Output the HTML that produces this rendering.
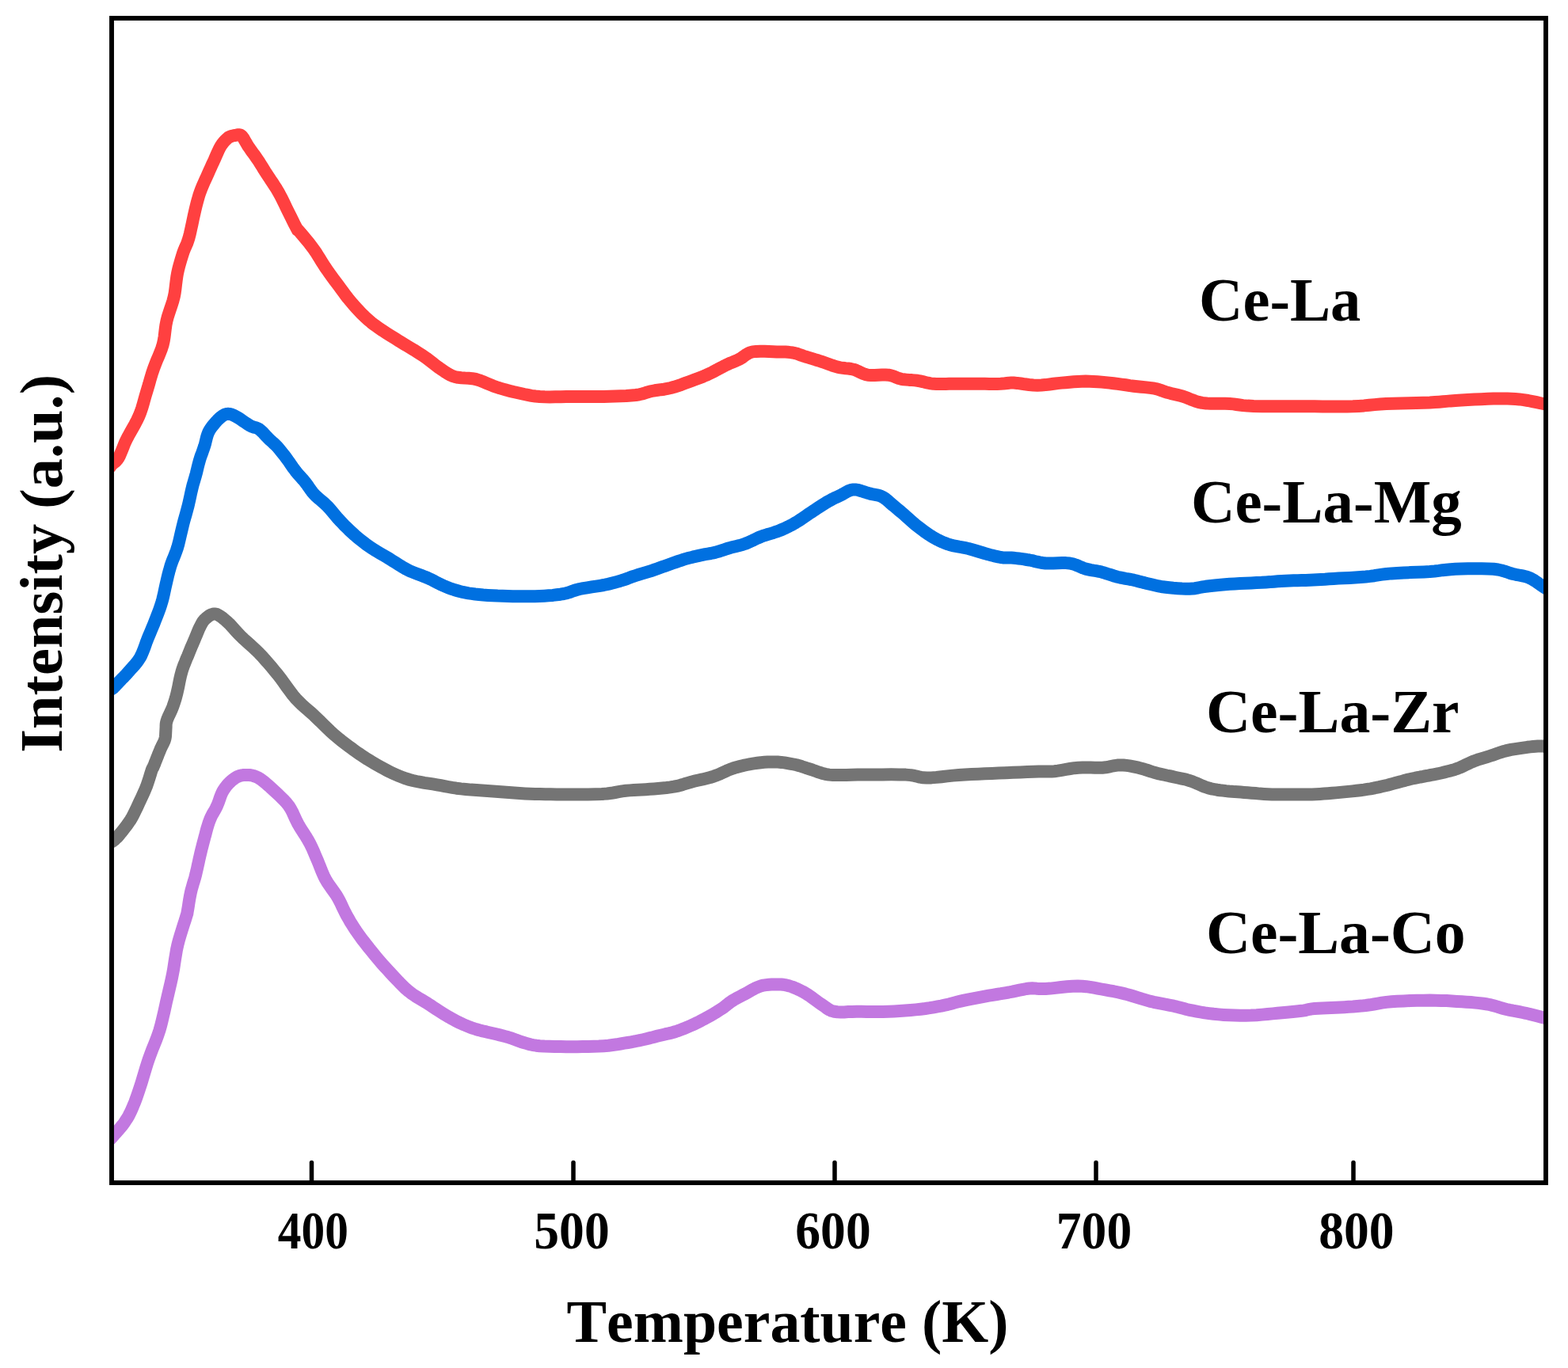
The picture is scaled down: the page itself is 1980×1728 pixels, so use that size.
<!DOCTYPE html>
<html><head><meta charset="utf-8"><title>TPR</title>
<style>html,body{margin:0;padding:0;background:#fff;overflow:hidden;width:1980px;height:1728px;}svg{display:block;}</style>
</head><body>
<svg width="1980" height="1728" viewBox="0 0 1980 1728">
<rect width="1980" height="1728" fill="#fff"/>
<defs><clipPath id="c"><rect x="141" y="23" width="1811" height="1471"/></clipPath></defs>
<g clip-path="url(#c)" fill="none" stroke-width="16" stroke-linejoin="round" stroke-linecap="round">
<path stroke="#ff4040" d="M139.0 590.0 L139.1 589.7 L139.3 589.4 L139.5 589.1 L139.8 588.5 L140.2 587.9 L141.0 587.0 L142.1 586.0 L143.4 585.0 L144.9 583.8 L146.5 582.3 L148.2 580.4 L149.8 578.1 L151.3 575.2 L152.7 571.9 L154.2 568.2 L155.8 564.2 L157.5 559.9 L159.5 555.6 L161.9 551.0 L164.6 546.1 L167.5 541.0 L170.4 535.8 L173.1 530.6 L175.5 525.5 L177.5 520.5 L179.2 515.5 L180.7 510.4 L182.1 505.4 L183.5 500.4 L185.0 495.4 L186.5 490.4 L188.0 485.4 L189.4 480.3 L190.9 475.3 L192.4 470.3 L194.1 465.3 L196.0 460.3 L198.0 455.3 L200.2 450.3 L202.2 445.3 L204.1 440.3 L205.7 435.3 L206.8 430.3 L207.6 425.3 L208.2 420.3 L208.8 415.2 L209.5 410.2 L210.5 405.2 L211.8 400.2 L213.4 395.2 L215.1 390.1 L216.8 385.1 L218.4 380.1 L219.7 375.1 L220.7 370.0 L221.4 364.9 L222.0 359.7 L222.6 354.7 L223.3 349.7 L224.1 345.0 L225.1 340.5 L226.2 336.1 L227.4 331.8 L228.6 327.7 L229.8 323.8 L231.0 320.0 L232.2 316.6 L233.4 313.7 L234.7 310.9 L236.0 307.9 L237.2 304.6 L238.5 300.5 L239.8 295.5 L241.1 289.6 L242.5 283.3 L243.8 277.0 L245.1 271.0 L246.3 265.7 L247.4 261.2 L248.4 257.1 L249.4 253.4 L250.4 249.9 L251.4 246.3 L252.7 242.6 L254.2 238.7 L255.8 234.7 L257.6 230.6 L259.4 226.7 L261.1 222.9 L262.7 219.4 L264.1 216.2 L265.5 213.2 L266.8 210.3 L268.0 207.6 L269.3 204.8 L270.6 202.0 L271.9 199.0 L273.2 196.0 L274.6 192.9 L275.9 190.0 L277.3 187.2 L278.7 184.7 L280.2 182.4 L281.7 180.4 L283.3 178.5 L284.9 176.8 L286.5 175.3 L288.0 174.0 L289.5 173.0 L291.1 172.3 L292.6 171.8 L294.1 171.5 L295.6 171.2 L297.0 171.0 L298.4 170.7 L299.7 170.4 L301.0 170.2 L302.3 170.3 L303.7 170.6 L305.0 171.5 L306.3 172.9 L307.6 174.8 L308.9 177.1 L310.3 179.5 L311.8 182.1 L313.4 184.7 L315.2 187.3 L317.2 190.2 L319.3 193.1 L321.5 196.1 L323.6 199.1 L325.6 202.0 L327.5 204.8 L329.2 207.6 L330.9 210.3 L332.7 213.2 L334.5 216.2 L336.6 219.4 L338.9 222.9 L341.4 226.7 L344.1 230.6 L346.7 234.7 L349.3 238.7 L351.6 242.6 L353.7 246.5 L355.7 250.3 L357.6 254.1 L359.5 258.0 L361.3 261.8 L363.2 265.7 L365.2 269.8 L367.4 274.2 L369.6 278.6 L371.6 282.7 L373.4 286.2 L374.8 288.9 L375.6 290.3 L375.7 290.6 L375.7 290.3 L375.7 289.9 L376.1 290.2 L377.4 291.6 L379.6 294.3 L382.6 297.8 L386.0 301.9 L389.6 306.2 L393.0 310.6 L396.1 314.7 L398.8 318.6 L401.2 322.4 L403.6 326.3 L406.0 330.2 L408.4 334.0 L410.9 337.9 L413.6 341.8 L416.3 345.6 L419.1 349.4 L421.9 353.3 L424.8 357.1 L427.7 361.0 L430.6 364.9 L433.4 368.7 L436.2 372.6 L439.2 376.5 L442.3 380.3 L445.6 384.2 L449.1 388.1 L452.7 392.0 L456.4 395.9 L460.4 399.8 L464.5 403.6 L468.8 407.3 L473.4 410.8 L478.2 414.2 L483.1 417.6 L488.3 420.9 L493.5 424.2 L498.9 427.6 L504.6 431.2 L510.6 434.8 L516.7 438.5 L522.7 442.1 L528.4 445.7 L533.6 449.0 L538.2 452.2 L542.4 455.4 L546.3 458.4 L549.9 461.2 L553.4 463.9 L556.8 466.3 L560.0 468.4 L562.8 470.3 L565.5 472.0 L568.2 473.5 L571.1 474.9 L574.5 476.0 L578.4 476.8 L582.6 477.2 L587.1 477.5 L591.7 477.7 L596.3 478.2 L600.8 479.0 L605.2 480.3 L609.5 481.9 L613.9 483.8 L618.3 485.6 L622.6 487.4 L627.0 489.0 L631.3 490.4 L635.6 491.6 L639.8 492.8 L644.1 493.9 L648.5 495.0 L653.0 496.0 L657.5 497.0 L661.9 498.0 L666.4 498.9 L671.1 499.8 L676.1 500.5 L681.6 501.0 L687.7 501.3 L694.2 501.4 L701.1 501.3 L708.1 501.2 L715.1 501.1 L722.0 501.0 L728.7 501.0 L735.5 501.1 L742.2 501.1 L748.9 501.1 L755.7 501.1 L762.4 501.0 L769.4 500.8 L776.6 500.6 L783.9 500.3 L790.8 500.0 L797.2 499.5 L802.8 499.0 L807.3 498.3 L810.9 497.5 L813.9 496.6 L816.7 495.7 L819.6 494.8 L823.0 494.0 L826.8 493.3 L830.6 492.8 L834.6 492.2 L838.7 491.7 L842.8 490.9 L847.0 490.0 L851.3 488.8 L855.9 487.3 L860.5 485.8 L865.0 484.1 L869.4 482.5 L873.5 481.0 L877.3 479.6 L880.8 478.3 L884.2 477.0 L887.5 475.7 L890.6 474.3 L893.7 473.0 L896.7 471.6 L899.7 470.1 L902.5 468.6 L905.2 467.2 L907.7 465.8 L910.0 464.6 L912.0 463.6 L913.7 462.7 L915.1 462.0 L916.6 461.2 L918.2 460.5 L920.0 459.6 L922.1 458.7 L924.3 457.8 L926.6 456.8 L929.0 455.8 L931.5 454.7 L934.0 453.5 L936.4 452.1 L938.8 450.4 L941.2 448.6 L943.9 446.9 L946.9 445.4 L950.5 444.4 L954.9 443.9 L960.0 443.7 L965.4 443.8 L970.9 444.0 L976.2 444.2 L980.8 444.4 L984.8 444.5 L988.4 444.5 L991.8 444.6 L995.0 444.8 L998.0 445.1 L1001.0 445.5 L1003.9 446.1 L1006.5 446.8 L1009.0 447.7 L1011.5 448.6 L1014.2 449.6 L1017.0 450.5 L1020.1 451.4 L1023.3 452.4 L1026.7 453.4 L1030.1 454.5 L1033.6 455.5 L1037.0 456.6 L1040.4 457.8 L1043.8 459.0 L1047.3 460.3 L1050.7 461.5 L1054.2 462.6 L1057.6 463.6 L1061.0 464.3 L1064.4 464.8 L1067.8 465.2 L1071.2 465.5 L1074.6 466.0 L1077.8 466.7 L1080.9 467.7 L1083.7 469.0 L1086.5 470.4 L1089.4 471.7 L1092.5 472.9 L1096.0 473.7 L1100.0 474.0 L1104.5 474.0 L1109.1 473.8 L1113.8 473.6 L1118.2 473.5 L1122.0 473.7 L1125.2 474.3 L1127.9 475.1 L1130.3 476.1 L1132.7 477.1 L1135.2 478.1 L1138.0 478.8 L1141.2 479.3 L1144.5 479.6 L1148.0 479.9 L1151.6 480.1 L1155.1 480.4 L1158.6 480.8 L1161.9 481.4 L1165.2 482.1 L1168.5 482.9 L1171.8 483.7 L1175.2 484.3 L1178.8 484.8 L1182.5 485.0 L1186.4 485.1 L1190.3 485.1 L1194.4 484.9 L1198.6 484.8 L1203.0 484.8 L1207.7 484.8 L1212.5 484.8 L1217.6 484.8 L1222.7 484.8 L1227.9 484.8 L1233.0 484.8 L1238.2 484.8 L1243.7 484.8 L1249.2 484.9 L1254.4 484.9 L1259.3 484.9 L1263.6 484.8 L1267.0 484.6 L1269.6 484.3 L1271.8 484.0 L1274.1 483.7 L1276.6 483.6 L1280.0 483.6 L1284.2 483.9 L1289.0 484.5 L1294.1 485.3 L1299.5 486.0 L1304.8 486.5 L1310.0 486.7 L1315.1 486.5 L1320.2 486.1 L1325.3 485.5 L1330.4 484.8 L1335.5 484.1 L1340.6 483.6 L1345.7 483.2 L1350.8 482.7 L1355.8 482.3 L1360.9 481.9 L1366.0 481.7 L1371.0 481.6 L1376.0 481.7 L1381.0 481.9 L1386.0 482.2 L1391.0 482.6 L1396.0 483.1 L1401.0 483.6 L1406.1 484.2 L1411.3 484.9 L1416.5 485.6 L1421.6 486.3 L1426.7 487.1 L1431.5 487.7 L1436.2 488.2 L1441.0 488.7 L1445.5 489.1 L1449.9 489.6 L1454.0 490.1 L1457.8 490.7 L1461.0 491.4 L1463.8 492.2 L1466.3 493.1 L1468.7 494.0 L1471.2 494.9 L1474.0 495.8 L1477.1 496.6 L1480.2 497.4 L1483.5 498.1 L1486.9 498.9 L1490.4 499.8 L1494.0 500.8 L1497.6 502.1 L1501.3 503.5 L1505.1 505.1 L1509.1 506.6 L1513.3 507.9 L1518.0 508.9 L1523.2 509.5 L1528.9 509.7 L1535.0 509.8 L1541.1 509.8 L1547.0 509.8 L1552.7 510.0 L1557.5 510.4 L1561.4 511.0 L1565.2 511.5 L1569.6 512.1 L1575.3 512.6 L1583.0 513.0 L1593.5 513.2 L1606.3 513.3 L1620.4 513.3 L1634.7 513.3 L1648.3 513.3 L1660.0 513.3 L1669.8 513.4 L1678.5 513.4 L1686.4 513.5 L1693.9 513.6 L1701.1 513.5 L1708.5 513.3 L1715.7 512.9 L1722.5 512.4 L1729.1 511.7 L1735.8 511.1 L1742.8 510.5 L1750.5 510.0 L1759.2 509.7 L1768.7 509.4 L1778.6 509.2 L1788.4 509.0 L1797.5 508.8 L1805.5 508.5 L1812.0 508.1 L1817.4 507.7 L1822.1 507.3 L1826.7 506.9 L1831.8 506.4 L1837.8 506.0 L1845.1 505.6 L1853.3 505.1 L1861.9 504.6 L1870.5 504.2 L1878.7 503.8 L1886.0 503.6 L1892.4 503.5 L1898.1 503.5 L1903.4 503.5 L1908.5 503.7 L1913.5 504.0 L1918.6 504.4 L1924.0 505.1 L1929.6 506.0 L1935.1 507.1 L1940.4 508.2 L1945.1 509.2 L1949.0 510.0 L1952.1 510.6 L1954.5 511.0 L1956.4 511.4 L1957.9 511.6 L1959.0 511.8 L1960.0 512.0"/>
<path stroke="#0070e0" d="M139.0 871.0 L139.4 870.9 L139.9 870.7 L140.5 870.6 L141.2 870.3 L142.0 869.8 L143.0 869.0 L144.1 867.9 L145.4 866.6 L146.8 865.1 L148.3 863.5 L149.9 861.8 L151.6 860.0 L153.3 858.2 L155.1 856.4 L157.0 854.4 L159.0 852.4 L161.0 850.2 L163.1 847.8 L165.3 845.3 L167.7 842.6 L170.2 839.8 L172.6 836.9 L174.9 833.8 L177.0 830.5 L178.8 827.0 L180.4 823.2 L181.9 819.3 L183.4 815.2 L184.8 811.2 L186.3 807.3 L187.9 803.4 L189.5 799.6 L191.1 795.7 L192.7 791.9 L194.3 788.1 L195.8 784.2 L197.3 780.3 L198.8 776.5 L200.3 772.6 L201.7 768.7 L203.0 764.9 L204.2 761.0 L205.3 757.1 L206.2 753.3 L207.1 749.5 L207.9 745.6 L208.7 741.8 L209.6 737.9 L210.5 734.0 L211.4 730.2 L212.3 726.3 L213.3 722.4 L214.4 718.6 L215.5 714.7 L216.8 710.9 L218.2 707.2 L219.7 703.6 L221.2 699.8 L222.7 695.8 L224.1 691.6 L225.4 687.0 L226.6 682.0 L227.8 676.8 L229.0 671.6 L230.2 666.6 L231.3 662.0 L232.4 657.8 L233.5 653.8 L234.6 650.1 L235.6 646.4 L236.6 642.7 L237.6 638.9 L238.5 635.0 L239.4 631.0 L240.3 626.9 L241.1 623.0 L242.0 619.2 L242.8 615.7 L243.6 612.5 L244.5 609.5 L245.3 606.7 L246.1 604.0 L246.9 601.2 L247.7 598.4 L248.4 595.5 L249.1 592.6 L249.8 589.7 L250.5 586.8 L251.3 583.9 L252.1 581.0 L253.0 578.1 L254.0 575.2 L255.1 572.4 L256.1 569.5 L257.1 566.6 L258.1 563.7 L259.0 560.7 L259.7 557.7 L260.5 554.6 L261.2 551.7 L262.1 548.9 L263.1 546.3 L264.3 544.0 L265.5 541.9 L266.9 540.0 L268.3 538.1 L269.8 536.4 L271.2 534.7 L272.6 533.0 L274.1 531.4 L275.6 529.8 L277.1 528.4 L278.6 527.1 L280.0 526.0 L281.4 525.1 L282.6 524.3 L283.9 523.6 L285.2 523.2 L286.5 522.9 L288.0 522.8 L289.5 522.9 L291.0 523.2 L292.6 523.6 L294.3 524.3 L296.2 525.2 L298.4 526.3 L300.9 527.8 L303.9 529.7 L307.0 531.9 L310.1 534.0 L313.1 536.0 L315.7 537.6 L318.0 538.7 L320.0 539.4 L321.9 539.9 L323.6 540.4 L325.4 541.1 L327.3 542.2 L329.2 543.7 L331.2 545.6 L333.1 547.6 L335.0 549.7 L337.0 551.8 L338.9 553.8 L340.8 555.6 L342.8 557.4 L344.7 559.1 L346.6 560.9 L348.6 562.8 L350.5 564.8 L352.4 567.0 L354.3 569.3 L356.2 571.7 L358.2 574.2 L360.1 576.7 L362.0 579.3 L363.9 581.9 L365.9 584.7 L367.8 587.5 L369.7 590.3 L371.7 592.9 L373.6 595.5 L375.5 597.9 L377.5 600.1 L379.4 602.2 L381.3 604.3 L383.3 606.5 L385.2 608.8 L387.1 611.3 L388.9 613.9 L390.7 616.5 L392.6 619.2 L394.6 621.8 L396.8 624.4 L399.2 626.8 L401.9 629.2 L404.6 631.5 L407.4 633.9 L410.3 636.4 L413.0 639.0 L415.6 641.8 L418.2 644.8 L420.8 647.9 L423.5 651.1 L426.2 654.3 L429.0 657.4 L432.0 660.5 L435.0 663.7 L438.2 666.8 L441.4 670.0 L444.7 673.0 L448.0 676.0 L451.3 678.8 L454.7 681.6 L458.1 684.3 L461.5 686.9 L465.1 689.5 L468.7 692.0 L472.4 694.4 L476.3 696.8 L480.2 699.1 L484.2 701.4 L488.1 703.7 L492.0 706.0 L495.8 708.4 L499.6 710.8 L503.4 713.2 L507.2 715.6 L511.1 717.9 L515.0 720.0 L519.1 721.9 L523.4 723.6 L527.7 725.2 L531.9 726.8 L536.1 728.4 L540.0 730.0 L543.7 731.7 L547.1 733.4 L550.5 735.2 L553.8 736.9 L557.1 738.5 L560.4 740.0 L563.7 741.4 L567.0 742.7 L570.3 743.9 L573.6 745.0 L577.0 746.0 L580.6 747.0 L584.3 747.9 L587.9 748.6 L591.7 749.3 L595.7 749.9 L600.0 750.5 L604.8 751.0 L610.1 751.5 L615.8 751.9 L621.9 752.2 L628.2 752.6 L634.6 752.8 L641.0 753.0 L647.6 753.2 L654.6 753.3 L661.7 753.3 L668.7 753.3 L675.4 753.2 L681.6 753.0 L687.4 752.7 L692.9 752.3 L698.1 751.9 L703.0 751.3 L707.7 750.7 L712.0 750.0 L715.8 749.2 L719.1 748.2 L722.0 747.1 L724.9 746.0 L728.2 745.0 L732.0 744.0 L736.6 743.1 L741.7 742.3 L747.2 741.4 L752.6 740.6 L757.8 739.8 L762.4 739.0 L766.4 738.2 L769.9 737.4 L773.1 736.6 L776.2 735.8 L779.4 734.9 L782.6 734.0 L786.0 732.9 L789.3 731.8 L792.7 730.6 L796.1 729.3 L799.4 728.1 L802.8 727.0 L806.2 725.9 L809.5 724.9 L812.9 723.9 L816.3 722.9 L819.6 721.9 L823.0 720.8 L826.3 719.7 L829.7 718.5 L833.0 717.3 L836.3 716.1 L839.6 714.9 L843.0 713.7 L846.4 712.5 L849.8 711.3 L853.2 710.1 L856.6 708.9 L860.0 707.8 L863.4 706.7 L866.8 705.7 L870.1 704.8 L873.5 704.0 L876.9 703.1 L880.2 702.4 L883.6 701.6 L887.0 700.9 L890.5 700.2 L894.0 699.6 L897.4 699.0 L900.7 698.3 L903.8 697.6 L906.7 696.8 L909.3 696.0 L911.9 695.1 L914.4 694.3 L917.1 693.4 L920.0 692.5 L923.2 691.6 L926.5 690.8 L929.9 690.0 L933.5 689.1 L937.0 688.1 L940.4 687.0 L943.7 685.7 L947.0 684.2 L950.3 682.7 L953.6 681.1 L957.0 679.5 L960.6 678.0 L964.4 676.6 L968.5 675.3 L972.7 674.1 L976.9 672.8 L981.0 671.4 L984.8 670.0 L988.4 668.5 L991.8 666.9 L995.2 665.3 L998.4 663.7 L1001.7 661.9 L1005.0 660.0 L1008.3 658.0 L1011.7 655.8 L1015.0 653.5 L1018.3 651.2 L1021.6 648.9 L1025.0 646.7 L1028.4 644.4 L1032.0 642.1 L1035.5 639.8 L1039.0 637.5 L1042.3 635.4 L1045.5 633.5 L1048.4 631.9 L1051.2 630.4 L1053.8 629.1 L1056.4 627.9 L1059.0 626.7 L1061.6 625.5 L1064.2 624.1 L1066.8 622.6 L1069.4 621.1 L1072.1 619.8 L1074.9 618.9 L1077.8 618.4 L1081.0 618.5 L1084.4 619.2 L1087.9 620.2 L1091.4 621.4 L1094.8 622.5 L1098.0 623.4 L1100.9 624.1 L1103.7 624.6 L1106.4 625.1 L1109.0 625.6 L1111.5 626.4 L1114.0 627.5 L1116.4 628.9 L1118.8 630.6 L1121.1 632.5 L1123.4 634.6 L1125.7 636.6 L1128.0 638.6 L1130.4 640.5 L1132.7 642.5 L1135.1 644.5 L1137.5 646.5 L1139.9 648.6 L1142.4 650.7 L1144.9 652.9 L1147.5 655.2 L1150.1 657.6 L1152.8 660.0 L1155.6 662.4 L1158.6 664.8 L1161.7 667.2 L1165.0 669.7 L1168.4 672.2 L1171.9 674.6 L1175.4 676.9 L1178.8 679.0 L1182.1 680.8 L1185.4 682.5 L1188.7 684.1 L1192.0 685.5 L1195.4 686.8 L1199.0 688.0 L1202.8 689.1 L1206.9 689.9 L1211.0 690.7 L1215.1 691.4 L1219.2 692.2 L1223.0 693.0 L1226.6 694.0 L1230.1 695.0 L1233.4 696.0 L1236.7 697.0 L1240.1 698.0 L1243.4 699.0 L1246.8 699.9 L1250.3 700.9 L1253.8 701.8 L1257.2 702.7 L1260.5 703.4 L1263.6 704.0 L1266.5 704.4 L1269.2 704.5 L1271.8 704.5 L1274.4 704.5 L1277.1 704.6 L1280.0 704.8 L1283.1 705.1 L1286.4 705.5 L1289.7 705.9 L1293.2 706.4 L1296.6 707.0 L1300.0 707.5 L1303.3 708.1 L1306.4 708.9 L1309.6 709.7 L1312.9 710.4 L1316.4 711.0 L1320.4 711.5 L1325.0 711.6 L1330.1 711.5 L1335.6 711.3 L1341.0 711.1 L1346.1 711.1 L1350.7 711.5 L1354.7 712.3 L1358.2 713.5 L1361.5 714.8 L1364.6 716.2 L1367.7 717.5 L1371.0 718.6 L1374.4 719.4 L1377.7 720.1 L1381.0 720.7 L1384.3 721.2 L1387.7 721.8 L1391.0 722.6 L1394.3 723.5 L1397.6 724.6 L1401.0 725.6 L1404.3 726.7 L1407.6 727.8 L1411.0 728.7 L1414.4 729.5 L1417.8 730.1 L1421.2 730.8 L1424.7 731.4 L1428.1 732.0 L1431.5 732.7 L1434.9 733.5 L1438.3 734.4 L1441.6 735.3 L1445.0 736.1 L1448.3 737.0 L1451.7 737.8 L1455.0 738.6 L1458.1 739.3 L1461.2 740.0 L1464.5 740.7 L1468.1 741.3 L1472.0 741.8 L1476.5 742.3 L1481.6 742.8 L1487.0 743.2 L1492.4 743.6 L1497.4 743.8 L1502.0 743.8 L1505.8 743.6 L1509.1 743.2 L1512.2 742.6 L1515.2 742.0 L1518.5 741.4 L1522.4 740.8 L1526.8 740.3 L1531.4 739.8 L1536.3 739.2 L1541.5 738.7 L1547.0 738.2 L1552.7 737.8 L1559.0 737.4 L1565.8 737.1 L1572.8 736.7 L1579.9 736.4 L1586.7 736.1 L1593.0 735.8 L1598.6 735.4 L1603.9 735.1 L1608.8 734.7 L1613.6 734.3 L1618.5 734.0 L1623.4 733.7 L1628.5 733.5 L1633.5 733.3 L1638.6 733.2 L1643.6 733.0 L1648.7 732.9 L1653.7 732.7 L1658.6 732.5 L1663.4 732.2 L1668.2 731.9 L1673.1 731.7 L1678.4 731.3 L1684.0 731.0 L1690.3 730.6 L1697.1 730.3 L1704.2 729.9 L1711.3 729.5 L1718.2 729.0 L1724.6 728.5 L1730.3 727.9 L1735.4 727.2 L1740.3 726.4 L1745.3 725.7 L1750.8 725.0 L1757.0 724.4 L1764.3 723.9 L1772.6 723.5 L1781.3 723.1 L1789.9 722.8 L1798.2 722.4 L1805.5 722.0 L1811.6 721.5 L1816.9 720.9 L1821.7 720.2 L1826.5 719.7 L1831.7 719.2 L1837.8 718.8 L1845.2 718.5 L1853.6 718.3 L1862.4 718.2 L1871.1 718.2 L1879.2 718.4 L1886.0 718.8 L1891.5 719.5 L1896.1 720.5 L1900.0 721.6 L1903.5 722.8 L1906.9 724.0 L1910.5 725.0 L1914.2 725.8 L1917.9 726.5 L1921.4 727.2 L1924.9 727.9 L1928.2 728.8 L1931.5 730.0 L1934.7 731.6 L1937.9 733.5 L1941.0 735.6 L1944.0 737.7 L1946.8 739.7 L1949.3 741.4 L1951.6 742.9 L1953.8 744.2 L1955.8 745.4 L1957.5 746.5 L1958.9 747.3 L1960.0 748.0"/>
<path stroke="#747474" d="M139.0 1064.0 L139.4 1063.8 L139.9 1063.7 L140.5 1063.5 L141.3 1063.1 L142.1 1062.7 L143.0 1062.0 L144.0 1061.2 L144.9 1060.4 L146.0 1059.4 L147.3 1058.2 L148.7 1056.7 L150.4 1054.7 L152.5 1052.2 L154.9 1049.2 L157.5 1045.9 L160.2 1042.4 L162.7 1038.8 L165.0 1035.4 L167.0 1032.0 L168.8 1028.6 L170.5 1025.1 L172.2 1021.6 L173.8 1018.1 L175.4 1014.6 L177.1 1011.1 L178.7 1007.7 L180.3 1004.2 L181.9 1000.7 L183.4 997.2 L184.8 993.8 L186.1 990.1 L187.4 986.2 L188.7 982.3 L189.8 978.6 L190.8 975.4 L191.6 972.9 L192.2 971.3 L192.6 970.5 L192.8 970.1 L193.1 969.8 L193.3 969.4 L193.8 968.4 L194.4 966.9 L195.2 965.1 L195.9 963.0 L196.8 960.9 L197.6 958.8 L198.4 956.8 L199.2 954.9 L199.9 952.9 L200.7 951.0 L201.5 949.1 L202.3 947.1 L203.1 945.2 L204.0 943.3 L204.9 941.4 L205.9 939.5 L206.9 937.5 L207.7 935.6 L208.3 933.7 L208.7 931.8 L209.0 929.8 L209.1 927.9 L209.2 926.0 L209.3 924.0 L209.4 922.1 L209.5 920.2 L209.6 918.4 L209.6 916.7 L209.7 914.8 L210.0 912.8 L210.6 910.5 L211.5 907.9 L212.7 905.1 L214.1 902.2 L215.5 899.1 L216.9 896.1 L218.1 893.1 L219.1 890.3 L220.0 887.7 L220.8 885.1 L221.7 882.3 L222.5 879.3 L223.4 875.8 L224.3 871.8 L225.3 867.3 L226.2 862.5 L227.2 857.6 L228.3 852.8 L229.5 848.4 L230.8 844.2 L232.3 840.1 L233.9 836.2 L235.4 832.3 L237.0 828.7 L238.4 825.2 L239.7 822.0 L240.9 819.0 L242.1 816.2 L243.3 813.5 L244.5 810.7 L245.7 807.9 L246.9 804.9 L248.2 801.8 L249.5 798.7 L250.7 795.7 L252.0 792.9 L253.2 790.5 L254.3 788.4 L255.3 786.6 L256.3 785.0 L257.4 783.6 L258.6 782.3 L260.0 781.0 L261.6 779.7 L263.4 778.3 L265.4 777.0 L267.4 776.1 L269.6 775.5 L271.8 775.5 L274.1 776.1 L276.5 777.3 L278.9 778.9 L281.5 780.8 L284.1 783.0 L286.8 785.3 L289.5 787.8 L292.2 790.7 L295.0 793.8 L297.9 797.1 L300.9 800.4 L304.2 803.8 L307.7 807.1 L311.5 810.5 L315.4 814.0 L319.4 817.6 L323.4 821.3 L327.3 825.2 L331.2 829.3 L335.0 833.6 L338.9 838.0 L342.8 842.5 L346.6 847.2 L350.5 851.9 L354.4 856.9 L358.2 862.2 L362.0 867.5 L365.9 872.8 L369.7 877.9 L373.6 882.5 L377.5 886.6 L381.3 890.3 L385.2 893.7 L389.0 897.0 L392.9 900.4 L396.8 903.9 L400.7 907.7 L404.8 911.6 L408.8 915.6 L412.8 919.5 L416.7 923.3 L420.4 926.7 L424.0 929.8 L427.4 932.6 L430.7 935.3 L434.0 937.8 L437.3 940.3 L440.6 942.8 L444.0 945.3 L447.3 947.8 L450.7 950.2 L454.1 952.5 L457.4 954.8 L460.8 957.0 L464.2 959.2 L467.5 961.2 L470.9 963.3 L474.3 965.2 L477.6 967.1 L481.0 969.0 L484.3 970.8 L487.7 972.6 L491.0 974.3 L494.3 976.0 L497.6 977.5 L501.0 979.0 L504.3 980.4 L507.4 981.6 L510.6 982.8 L513.9 983.9 L517.4 985.0 L521.4 986.0 L525.9 987.0 L530.8 987.9 L535.9 988.8 L541.2 989.6 L546.5 990.4 L551.7 991.3 L556.6 992.2 L561.4 993.1 L566.2 994.0 L571.2 994.9 L576.4 995.7 L582.0 996.4 L588.1 997.0 L594.7 997.6 L601.6 998.0 L608.6 998.5 L615.5 998.9 L622.4 999.4 L629.1 999.9 L635.9 1000.5 L642.6 1001.0 L649.3 1001.5 L656.1 1002.0 L662.8 1002.4 L669.3 1002.7 L675.6 1002.9 L681.9 1003.1 L688.4 1003.2 L695.3 1003.3 L703.0 1003.4 L711.8 1003.5 L721.7 1003.5 L732.1 1003.5 L742.4 1003.5 L751.9 1003.3 L760.0 1003.0 L766.6 1002.5 L772.1 1001.8 L776.8 1001.0 L781.2 1000.2 L785.6 999.4 L790.3 998.8 L795.3 998.4 L800.4 998.0 L805.4 997.7 L810.5 997.5 L815.5 997.2 L820.6 996.8 L825.8 996.4 L831.0 996.0 L836.3 995.5 L841.5 995.0 L846.4 994.4 L851.0 993.7 L855.1 992.9 L858.7 992.0 L862.1 991.0 L865.5 989.9 L869.1 988.8 L873.0 987.7 L877.4 986.6 L882.1 985.5 L887.1 984.4 L892.0 983.2 L896.8 982.0 L901.4 980.6 L905.7 979.0 L909.7 977.3 L913.6 975.5 L917.5 973.7 L921.5 972.0 L925.6 970.5 L929.9 969.2 L934.3 968.0 L938.7 966.9 L943.1 966.0 L947.6 965.1 L952.0 964.4 L956.4 963.8 L960.8 963.2 L965.1 962.8 L969.5 962.5 L973.8 962.4 L978.0 962.4 L982.2 962.6 L986.4 962.9 L990.6 963.4 L994.6 964.1 L998.6 964.8 L1002.4 965.5 L1006.0 966.3 L1009.3 967.2 L1012.5 968.2 L1015.7 969.3 L1019.0 970.4 L1022.6 971.5 L1026.3 972.7 L1030.0 974.0 L1033.8 975.4 L1037.8 976.7 L1042.1 977.8 L1046.9 978.6 L1051.9 979.0 L1057.1 979.1 L1062.7 979.0 L1068.7 978.9 L1075.4 978.7 L1083.0 978.6 L1092.1 978.6 L1102.7 978.5 L1114.0 978.4 L1125.2 978.3 L1135.4 978.4 L1143.8 978.6 L1150.0 979.1 L1154.7 979.9 L1158.3 980.8 L1161.7 981.7 L1165.5 982.3 L1170.3 982.6 L1176.1 982.4 L1182.4 981.9 L1189.0 981.2 L1196.0 980.4 L1203.2 979.6 L1210.7 979.0 L1218.5 978.5 L1226.7 978.1 L1235.2 977.7 L1243.8 977.3 L1252.5 977.0 L1261.0 976.6 L1269.8 976.2 L1279.0 975.8 L1288.3 975.4 L1297.1 975.1 L1305.0 974.7 L1311.7 974.5 L1316.7 974.4 L1320.2 974.4 L1322.9 974.5 L1325.3 974.5 L1328.0 974.5 L1331.5 974.2 L1335.9 973.6 L1340.8 972.8 L1346.0 971.9 L1351.3 971.0 L1356.6 970.2 L1361.8 969.7 L1366.9 969.5 L1372.2 969.5 L1377.4 969.6 L1382.6 969.8 L1387.5 969.8 L1392.1 969.7 L1396.3 969.3 L1400.2 968.6 L1403.9 967.8 L1407.5 967.1 L1411.1 966.6 L1414.8 966.4 L1418.6 966.5 L1422.4 966.9 L1426.2 967.4 L1430.0 968.1 L1433.8 968.9 L1437.6 969.7 L1441.4 970.7 L1445.3 971.8 L1449.1 973.0 L1453.0 974.3 L1456.7 975.5 L1460.3 976.5 L1463.7 977.4 L1467.0 978.1 L1470.2 978.8 L1473.3 979.5 L1476.6 980.1 L1480.0 980.9 L1483.6 981.7 L1487.3 982.5 L1491.2 983.3 L1495.0 984.1 L1498.9 985.1 L1502.7 986.2 L1506.5 987.6 L1510.3 989.1 L1514.1 990.8 L1517.9 992.5 L1521.7 994.0 L1525.5 995.3 L1529.3 996.3 L1533.1 997.0 L1536.9 997.7 L1540.6 998.2 L1544.4 998.6 L1548.2 999.1 L1551.9 999.5 L1555.5 999.8 L1559.1 1000.1 L1562.8 1000.3 L1566.7 1000.6 L1570.9 1000.9 L1575.5 1001.3 L1580.4 1001.7 L1585.6 1002.1 L1590.8 1002.6 L1596.1 1002.9 L1601.2 1003.2 L1606.2 1003.4 L1611.3 1003.5 L1616.3 1003.6 L1621.4 1003.6 L1626.5 1003.6 L1631.5 1003.6 L1636.5 1003.6 L1641.6 1003.6 L1646.7 1003.6 L1651.7 1003.5 L1656.8 1003.4 L1661.8 1003.2 L1666.8 1002.9 L1671.9 1002.6 L1676.9 1002.2 L1682.0 1001.8 L1687.0 1001.4 L1692.1 1000.9 L1697.2 1000.4 L1702.5 999.9 L1707.7 999.4 L1712.9 998.8 L1717.8 998.2 L1722.4 997.6 L1726.7 996.9 L1730.7 996.3 L1734.5 995.6 L1738.1 994.8 L1741.7 994.1 L1745.2 993.3 L1748.7 992.5 L1752.2 991.7 L1755.6 990.8 L1758.9 989.9 L1762.0 989.1 L1765.0 988.3 L1767.7 987.6 L1770.2 986.9 L1772.6 986.2 L1774.9 985.5 L1777.4 984.9 L1780.2 984.2 L1783.3 983.5 L1786.6 982.9 L1790.0 982.2 L1793.5 981.5 L1797.0 980.9 L1800.4 980.2 L1803.8 979.6 L1807.1 978.9 L1810.5 978.3 L1813.9 977.7 L1817.2 977.0 L1820.6 976.2 L1824.0 975.4 L1827.3 974.6 L1830.7 973.7 L1834.1 972.8 L1837.4 971.8 L1840.8 970.6 L1844.2 969.3 L1847.5 967.7 L1850.9 966.1 L1854.3 964.5 L1857.6 962.9 L1861.0 961.5 L1864.4 960.3 L1867.7 959.1 L1871.1 958.1 L1874.5 957.1 L1877.8 956.1 L1881.2 955.0 L1884.6 953.9 L1887.9 952.7 L1891.3 951.5 L1894.7 950.4 L1898.0 949.3 L1901.4 948.4 L1904.8 947.6 L1908.1 946.9 L1911.5 946.3 L1914.9 945.8 L1918.2 945.3 L1921.6 944.8 L1925.1 944.3 L1928.7 943.8 L1932.4 943.4 L1935.9 943.0 L1939.1 942.7 L1941.8 942.5 L1944.0 942.4 L1945.7 942.4 L1947.1 942.5 L1948.4 942.6 L1949.6 942.7 L1951.0 942.8 L1952.6 942.8 L1954.3 942.9 L1956.1 942.9 L1957.7 943.0 L1959.0 943.0 L1960.0 943.0"/>
<path stroke="#c278e0" d="M139.0 1439.0 L139.2 1438.8 L139.3 1438.8 L139.6 1438.6 L140.0 1438.2 L140.8 1437.4 L142.0 1436.0 L143.9 1433.9 L146.3 1431.1 L149.1 1428.0 L151.9 1424.6 L154.7 1421.3 L157.0 1418.1 L158.9 1415.2 L160.7 1412.5 L162.3 1409.7 L163.8 1406.8 L165.3 1403.7 L166.9 1400.2 L168.5 1396.3 L170.2 1392.2 L171.8 1387.9 L173.4 1383.3 L175.1 1378.4 L176.8 1373.3 L178.6 1367.8 L180.3 1362.0 L182.1 1355.9 L184.0 1349.7 L185.9 1343.5 L187.9 1337.4 L190.1 1331.4 L192.4 1325.4 L194.8 1319.5 L197.2 1313.5 L199.4 1307.5 L201.4 1301.5 L203.1 1295.5 L204.6 1289.5 L206.0 1283.5 L207.4 1277.6 L208.7 1271.6 L210.0 1265.6 L211.4 1259.6 L212.8 1253.6 L214.2 1247.6 L215.6 1241.7 L216.9 1235.7 L218.1 1229.7 L219.2 1223.7 L220.1 1217.7 L221.0 1211.8 L222.0 1205.8 L223.0 1199.8 L224.3 1193.8 L225.9 1187.5 L227.9 1180.8 L230.0 1174.0 L232.0 1167.7 L233.8 1162.2 L235.1 1157.9 L235.9 1155.3 L236.3 1154.1 L236.4 1153.7 L236.4 1153.4 L236.5 1152.8 L236.8 1151.0 L237.3 1148.1 L237.9 1144.5 L238.5 1140.4 L239.2 1136.1 L240.0 1131.8 L240.8 1127.8 L241.7 1123.9 L242.8 1120.1 L243.9 1116.2 L245.1 1112.4 L246.2 1108.6 L247.2 1104.7 L248.1 1100.8 L249.0 1097.0 L249.8 1093.1 L250.7 1089.2 L251.5 1085.4 L252.4 1081.5 L253.3 1077.6 L254.2 1073.8 L255.2 1070.0 L256.2 1066.1 L257.2 1062.3 L258.2 1058.4 L259.3 1054.5 L260.3 1050.5 L261.4 1046.4 L262.6 1042.5 L263.8 1038.7 L265.1 1035.2 L266.5 1032.0 L268.0 1029.0 L269.6 1026.2 L271.2 1023.5 L272.7 1020.7 L274.1 1017.9 L275.3 1014.9 L276.4 1011.9 L277.5 1008.8 L278.5 1005.9 L279.6 1003.1 L280.8 1000.5 L282.1 998.2 L283.5 996.1 L284.9 994.1 L286.3 992.3 L287.8 990.6 L289.4 988.9 L291.1 987.3 L292.8 985.8 L294.6 984.4 L296.4 983.1 L298.2 981.9 L300.0 981.0 L301.7 980.3 L303.5 979.8 L305.2 979.4 L306.9 979.1 L308.6 979.0 L310.3 978.9 L311.9 978.9 L313.6 978.9 L315.2 979.0 L316.8 979.2 L318.4 979.6 L320.0 980.0 L321.6 980.5 L323.0 981.0 L324.5 981.6 L326.1 982.4 L327.9 983.5 L330.0 984.9 L332.5 986.8 L335.2 989.0 L338.2 991.6 L341.3 994.3 L344.3 997.1 L347.3 999.9 L350.3 1002.7 L353.3 1005.5 L356.3 1008.4 L359.3 1011.4 L362.1 1014.6 L364.7 1017.9 L367.0 1021.5 L369.0 1025.2 L370.8 1029.1 L372.6 1033.1 L374.5 1037.1 L376.5 1041.0 L378.8 1044.9 L381.2 1048.7 L383.7 1052.6 L386.2 1056.5 L388.5 1060.3 L390.7 1064.2 L392.7 1068.1 L394.5 1071.9 L396.2 1075.8 L397.8 1079.6 L399.4 1083.4 L401.1 1087.3 L402.7 1091.2 L404.2 1095.0 L405.7 1098.9 L407.3 1102.8 L409.0 1106.6 L411.0 1110.5 L413.3 1114.4 L415.9 1118.2 L418.6 1122.1 L421.4 1126.0 L424.1 1129.8 L426.5 1133.7 L428.6 1137.6 L430.5 1141.4 L432.3 1145.3 L434.1 1149.1 L436.0 1152.9 L438.0 1156.8 L440.2 1160.6 L442.4 1164.4 L444.8 1168.2 L447.2 1172.1 L449.8 1176.0 L452.6 1180.0 L455.6 1184.2 L458.9 1188.6 L462.4 1193.0 L465.9 1197.5 L469.4 1201.8 L472.8 1206.0 L476.1 1210.0 L479.4 1213.9 L482.7 1217.7 L486.0 1221.4 L489.5 1225.2 L493.0 1229.0 L496.7 1233.0 L500.5 1237.0 L504.4 1241.1 L508.4 1245.1 L512.3 1248.9 L516.3 1252.3 L520.3 1255.4 L524.4 1258.1 L528.4 1260.6 L532.5 1263.0 L536.4 1265.4 L540.2 1267.7 L543.8 1270.0 L547.2 1272.3 L550.5 1274.5 L553.8 1276.7 L557.1 1278.8 L560.4 1280.8 L563.8 1282.8 L567.1 1284.8 L570.5 1286.7 L573.9 1288.6 L577.2 1290.3 L580.6 1292.0 L584.0 1293.6 L587.3 1295.0 L590.7 1296.4 L594.1 1297.7 L597.4 1298.9 L600.8 1300.0 L604.2 1301.0 L607.5 1301.9 L610.9 1302.7 L614.3 1303.4 L617.6 1304.2 L621.0 1305.0 L624.4 1305.8 L627.7 1306.6 L631.1 1307.4 L634.5 1308.2 L637.8 1309.1 L641.2 1310.0 L644.6 1311.1 L647.9 1312.3 L651.3 1313.5 L654.7 1314.8 L658.0 1316.0 L661.4 1317.0 L664.5 1317.9 L667.4 1318.7 L670.2 1319.5 L673.4 1320.1 L677.1 1320.7 L681.6 1321.2 L687.2 1321.6 L693.6 1321.8 L700.5 1322.0 L707.8 1322.1 L715.0 1322.2 L722.0 1322.2 L728.9 1322.2 L735.8 1322.1 L742.8 1322.0 L749.7 1321.8 L756.3 1321.6 L762.4 1321.2 L768.2 1320.7 L773.6 1320.0 L778.8 1319.3 L783.7 1318.5 L788.3 1317.7 L792.7 1317.0 L796.7 1316.3 L800.2 1315.7 L803.5 1315.0 L806.6 1314.4 L809.7 1313.7 L813.0 1313.0 L816.3 1312.2 L819.7 1311.4 L823.0 1310.6 L826.3 1309.7 L829.7 1308.8 L833.0 1308.0 L836.4 1307.2 L839.7 1306.4 L843.1 1305.7 L846.5 1304.9 L849.9 1304.0 L853.3 1303.0 L856.7 1301.9 L860.0 1300.6 L863.4 1299.3 L866.8 1297.9 L870.1 1296.5 L873.5 1295.0 L876.9 1293.4 L880.3 1291.8 L883.7 1290.1 L887.1 1288.3 L890.4 1286.6 L893.7 1284.8 L896.9 1283.0 L900.2 1281.1 L903.4 1279.2 L906.4 1277.3 L909.3 1275.4 L912.0 1273.7 L914.3 1272.1 L916.3 1270.5 L918.1 1269.0 L919.9 1267.6 L921.8 1266.1 L924.0 1264.6 L926.4 1263.1 L929.0 1261.6 L931.7 1260.2 L934.5 1258.7 L937.4 1257.2 L940.4 1255.6 L943.5 1253.9 L946.9 1252.0 L950.3 1250.1 L953.7 1248.3 L957.2 1246.7 L960.6 1245.5 L964.0 1244.6 L967.5 1244.1 L971.0 1243.7 L974.4 1243.5 L977.7 1243.4 L980.8 1243.4 L983.7 1243.4 L986.4 1243.5 L988.9 1243.8 L991.5 1244.1 L994.1 1244.7 L997.0 1245.5 L1000.1 1246.5 L1003.4 1247.8 L1006.7 1249.2 L1010.2 1250.9 L1013.6 1252.6 L1017.0 1254.5 L1020.4 1256.6 L1023.9 1259.0 L1027.4 1261.6 L1030.9 1264.2 L1034.2 1266.6 L1037.4 1268.7 L1040.2 1270.6 L1042.6 1272.4 L1045.0 1274.1 L1047.4 1275.6 L1050.2 1276.9 L1053.5 1277.8 L1057.4 1278.3 L1061.6 1278.5 L1066.1 1278.4 L1071.0 1278.1 L1076.3 1277.9 L1081.8 1277.8 L1087.8 1277.8 L1094.3 1277.9 L1101.1 1278.0 L1108.1 1278.0 L1115.1 1278.0 L1122.0 1277.8 L1128.9 1277.5 L1135.9 1277.1 L1142.9 1276.6 L1149.8 1276.0 L1156.4 1275.4 L1162.6 1274.7 L1168.4 1274.0 L1173.9 1273.2 L1179.1 1272.3 L1184.0 1271.4 L1188.7 1270.6 L1193.0 1269.7 L1196.8 1268.9 L1200.1 1268.0 L1203.0 1267.2 L1205.9 1266.4 L1209.2 1265.5 L1213.0 1264.6 L1217.5 1263.6 L1222.4 1262.6 L1227.6 1261.6 L1232.9 1260.6 L1238.2 1259.6 L1243.4 1258.6 L1248.5 1257.7 L1253.7 1256.8 L1258.8 1256.0 L1263.9 1255.2 L1268.9 1254.3 L1273.7 1253.5 L1278.4 1252.6 L1283.0 1251.6 L1287.5 1250.7 L1291.8 1249.8 L1296.0 1249.0 L1300.0 1248.5 L1303.5 1248.3 L1306.5 1248.4 L1309.3 1248.7 L1312.3 1248.9 L1315.9 1249.1 L1320.4 1249.0 L1326.1 1248.6 L1332.8 1247.9 L1340.0 1247.0 L1347.3 1246.3 L1354.4 1245.7 L1360.8 1245.5 L1366.4 1245.7 L1371.6 1246.2 L1376.5 1246.9 L1381.3 1247.7 L1386.1 1248.6 L1391.0 1249.5 L1396.1 1250.4 L1401.1 1251.3 L1406.2 1252.2 L1411.3 1253.3 L1416.3 1254.4 L1421.4 1255.6 L1426.5 1257.0 L1431.5 1258.5 L1436.6 1260.1 L1441.6 1261.7 L1446.7 1263.2 L1451.7 1264.6 L1456.9 1265.8 L1462.2 1266.9 L1467.5 1267.9 L1472.6 1268.8 L1477.5 1269.8 L1482.0 1270.7 L1485.8 1271.6 L1489.1 1272.5 L1492.1 1273.3 L1495.1 1274.1 L1498.4 1275.0 L1502.2 1275.8 L1506.5 1276.7 L1511.2 1277.6 L1516.1 1278.5 L1521.3 1279.4 L1526.7 1280.1 L1532.5 1280.8 L1538.7 1281.4 L1545.3 1281.9 L1552.1 1282.3 L1559.1 1282.6 L1566.1 1282.8 L1573.0 1282.8 L1579.8 1282.6 L1586.8 1282.2 L1593.8 1281.6 L1600.6 1281.0 L1607.2 1280.4 L1613.3 1279.8 L1619.1 1279.3 L1624.7 1278.8 L1629.9 1278.3 L1634.9 1277.8 L1639.5 1277.3 L1643.6 1276.8 L1647.0 1276.3 L1649.5 1275.8 L1651.7 1275.3 L1653.9 1274.8 L1656.5 1274.4 L1660.0 1274.0 L1664.5 1273.7 L1669.6 1273.4 L1675.2 1273.2 L1680.9 1273.0 L1686.7 1272.8 L1692.3 1272.5 L1697.7 1272.2 L1703.1 1271.8 L1708.4 1271.5 L1713.8 1271.0 L1719.2 1270.6 L1724.6 1270.0 L1729.8 1269.3 L1734.8 1268.5 L1739.8 1267.6 L1745.0 1266.7 L1750.7 1265.9 L1757.0 1265.3 L1764.2 1264.8 L1772.3 1264.4 L1780.7 1264.0 L1789.3 1263.8 L1797.7 1263.7 L1805.5 1263.6 L1812.8 1263.7 L1819.9 1263.9 L1826.7 1264.1 L1833.3 1264.5 L1839.7 1264.9 L1845.9 1265.3 L1851.8 1265.7 L1857.6 1266.1 L1863.1 1266.6 L1868.3 1267.1 L1873.4 1267.8 L1878.2 1268.5 L1882.7 1269.4 L1886.9 1270.5 L1890.8 1271.6 L1894.6 1272.8 L1898.5 1274.0 L1902.4 1275.0 L1906.5 1275.9 L1910.6 1276.7 L1914.7 1277.4 L1918.7 1278.2 L1922.7 1279.0 L1926.7 1279.8 L1930.7 1280.7 L1934.8 1281.8 L1938.8 1282.8 L1942.7 1283.8 L1946.2 1284.7 L1949.3 1285.5 L1951.9 1286.1 L1954.1 1286.7 L1956.1 1287.1 L1957.7 1287.5 L1959.0 1287.8 L1960.0 1288.0"/>
</g>
<rect x="141" y="23" width="1811" height="1471" fill="none" stroke="#000" stroke-width="5.9"/>
<line x1="393.5" y1="1494" x2="393.5" y2="1468.5" stroke="#000" stroke-width="5.5" stroke-linecap="round"/>
<line x1="724" y1="1494" x2="724" y2="1468.5" stroke="#000" stroke-width="5.5" stroke-linecap="round"/>
<line x1="1054" y1="1494" x2="1054" y2="1468.5" stroke="#000" stroke-width="5.5" stroke-linecap="round"/>
<line x1="1384" y1="1494" x2="1384" y2="1468.5" stroke="#000" stroke-width="5.5" stroke-linecap="round"/>
<line x1="1709" y1="1494" x2="1709" y2="1468.5" stroke="#000" stroke-width="5.5" stroke-linecap="round"/>
<g font-family="Liberation Serif, serif" font-weight="bold" fill="#000" style="font-kerning:none">
<text transform="translate(1514.1 405.0) scale(0.97 1)" font-size="79">Ce-La</text>
<text transform="translate(1503.9 659.5) scale(0.974 1)" font-size="79">Ce-La-Mg</text>
<text transform="translate(1522.9 925.0) scale(0.985 1)" font-size="79">Ce-La-Zr</text>
<text transform="translate(1522.9 1204.0) scale(0.983 1)" font-size="79">Ce-La-Co</text>
<text transform="translate(715.5 1695.2) scale(0.985 1)" font-size="77">Temperature (K)</text>
<text transform="translate(395.3 1577.3) scale(0.867 1)" font-size="68.5" text-anchor="middle">400</text>
<text transform="translate(722.0 1577.3) scale(0.928 1)" font-size="68.5" text-anchor="middle">500</text>
<text transform="translate(1052.0 1577.3) scale(0.928 1)" font-size="68.5" text-anchor="middle">600</text>
<text transform="translate(1381.5 1577.3) scale(0.928 1)" font-size="68.5" text-anchor="middle">700</text>
<text transform="translate(1712.9 1577.3) scale(0.928 1)" font-size="68.5" text-anchor="middle">800</text>
<text transform="translate(78.1 950.7) rotate(-90) scale(0.993 1)" font-size="77">Intensity (a.u.)</text>
</g></svg>
</body></html>
